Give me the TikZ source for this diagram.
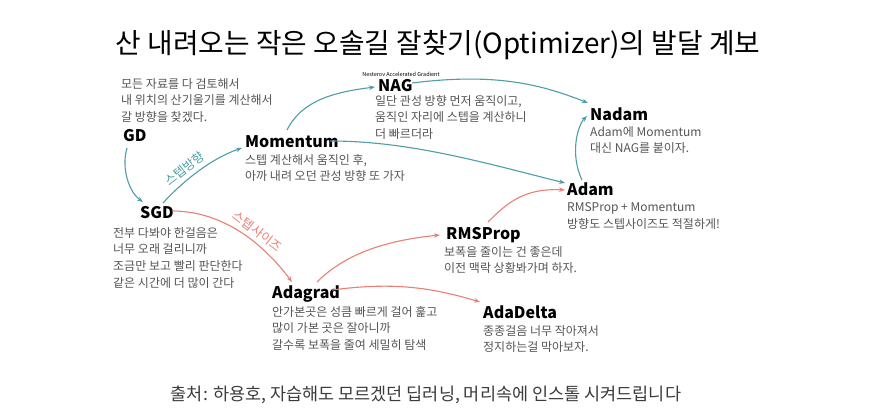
\documentclass[tikz,border=0pt]{standalone}
\usepackage{fontspec}
\setmainfont{Noto Sans CJK KR}
\usetikzlibrary{arrows.meta}
\definecolor{teal1}{RGB}{78,158,168}
\definecolor{red1}{RGB}{232,128,118}
\definecolor{desctext}{RGB}{85,85,85}
\definecolor{foottext}{RGB}{60,60,60}
\begin{document}
\begin{tikzpicture}[x=1pt,y=-1pt,
  algname/.style={anchor=base west,inner sep=0,font=\fontsize{16}{16}\selectfont\bfseries},
  desc/.style={anchor=north west,inner sep=0,align=left,text=desctext,font=\fontsize{12}{16.7}\selectfont},
  conn/.style={line width=1.1pt,-{Stealth[length=6pt,width=4.5pt]}},
  tealc/.style={conn,draw=teal1},
  redc/.style={conn,draw=red1},
  arrlabel/.style={inner sep=0,font=\fontsize{12.5}{12.5}\selectfont}]
\useasboundingbox[fill=white] (0,0) rectangle (883,417);

\node[inner sep=0,font=\fontsize{27.8}{27.8}\selectfont] (title) at (438,45) {산 내려오는 작은 오솔길 잘찾기(Optimizer)의 발달 계보};

% algorithm names
\node[algname] (GD) at (123,141.5) {GD};
\node[algname] (SGD) at (140,218.5) {SGD};
\node[algname] (Mom) at (245,147.5) {Momentum};
\node[algname] (NAG) at (378,91.5) {NAG};
\node[algname] (Nadam) at (590,120.5) {Nadam};
\node[algname] (Adam) at (567,195.5) {Adam};
\node[algname] (RMS) at (446,239.5) {RMSProp};
\node[algname] (Adagrad) at (272,298.5) {Adagrad};
\node[algname] (AdaDelta) at (483,318.5) {AdaDelta};

\node[inner sep=0,font=\fontsize{5.5}{5.5}\selectfont] (nagfull) at (401,74) {Nesterov Accelerated Gradient};

% descriptions
\node[desc] (GDd) at (121,78) {모든 자료를 다 검토해서\\내 위치의 산기울기를 계산해서\\갈 방향을 찾겠다.};
\node[desc] (Momd) at (245,154) {스텝 계산해서 움직인 후,\\아까 내려 오던 관성 방향 또 가자};
\node[desc] (NAGd) at (375,95) {일단 관성 방향 먼저 움직이고,\\움직인 자리에 스텝을 계산하니\\더 빠르더라};
\node[desc] (Nadamd) at (590,126) {Adam에 Momentum\\대신 NAG를 붙이자.};
\node[desc] (Adamd) at (567,202.5) {RMSProp + Momentum\\방향도 스텝사이즈도 적절하게!};
\node[desc] (SGDd) at (113,227) {전부 다봐야 한걸음은\\너무 오래 걸리니까\\조금만 보고 빨리 판단한다\\같은 시간에 더 많이 간다};
\node[desc] (RMSd) at (444,246) {보폭을 줄이는 건 좋은데\\이전 맥락 상황봐가며 하자.};
\node[desc] (Adagradd) at (272,306) {안가본곳은 성큼 빠르게 걸어 훑고\\많이 가본 곳은 잘아니까\\갈수록 보폭을 줄여 세밀히 탐색};
\node[desc] (AdaDeltad) at (483,325) {종종걸음 너무 작아져서\\정지하는걸 막아보자.};

% footer
\node[inner sep=0,text=foottext,font=\fontsize{17.5}{17.5}\selectfont] (foot) at (426,395) {출처: 하용호, 자습해도 모르겠던 딥러닝, 머리속에 인스톨 시켜드립니다};

% teal connectors
\draw[tealc] ([shift={(4,6.5)}]GD.base west) .. controls +(-6,20) and +(-14,-10) .. ([shift={(3,-16.5)}]SGD.base west);
\draw[tealc] ([shift={(23,-15.5)}]SGD.base west) .. controls +(20,-22) and +(-30,10) .. ([shift={(-3,0.5)}]Mom.base west)
  node[pos=0.4,sloped,above=4pt,arrlabel,text=teal1] (lab1) {스텝방향};
\draw[tealc] ([shift={(42,-17.5)}]Mom.base west) .. controls +(15,-30) and +(-40,5) .. ([shift={(-3,-4.5)}]NAG.base west);
\draw[tealc] ([shift={(85,-6.5)}]Mom.base west) .. controls +(80,0) and +(-80,-20) .. ([shift={(-2,-12.5)}]Adam.base west);
\draw[tealc] ([shift={(34,-8.5)}]NAG.base west) .. controls +(80,-10) and +(-50,-20) .. ([shift={(-2,-17.5)}]Nadam.base west);
\draw[tealc] ([shift={(15,-15.5)}]Adam.base west) .. controls +(-12,-25) and +(-10,10) .. ([shift={(-3,-4.5)}]Nadam.base west);

% red connectors
\draw[redc] ([shift={(32,-7.5)}]SGD.base west) .. controls +(50,0) and +(-30,-40) .. ([shift={(20,-16.5)}]Adagrad.base west)
  node[pos=0.6,sloped,above=4pt,arrlabel,text=red1] (lab2) {스텝사이즈};
\draw[redc] ([shift={(45,-16.5)}]Adagrad.base west) .. controls +(30,-30) and +(-50,5) .. ([shift={(-6,-4.5)}]RMS.base west);
\draw[redc] ([shift={(60,-8.5)}]Adagrad.base west) .. controls +(60,-8) and +(-50,-15) .. ([shift={(-3,-16.5)}]AdaDelta.base west);
\draw[redc] ([shift={(42,-17.5)}]RMS.base west) .. controls +(20,-20) and +(-40,-2) .. ([shift={(-2,-5.5)}]Adam.base west);
\end{tikzpicture}
\end{document}
